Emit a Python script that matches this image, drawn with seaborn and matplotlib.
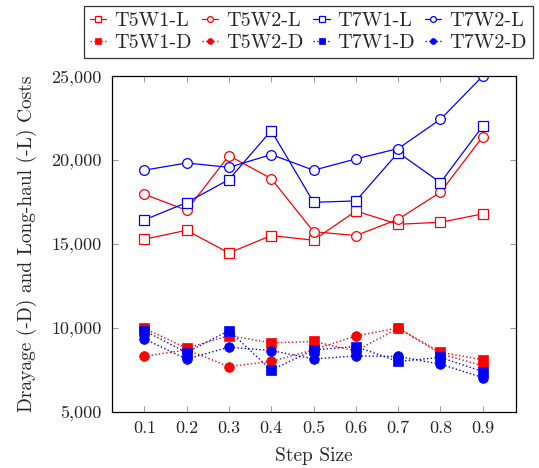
import matplotlib
matplotlib.use("Agg")
import matplotlib.pyplot as plt
import seaborn as sns
from matplotlib.ticker import FuncFormatter

# Step sizes on x-axis
steps = [0.1, 0.2, 0.3, 0.4, 0.5, 0.6, 0.7, 0.8, 0.9]

# Long-haul costs
t5w1_l = [15280, 15810, 14460, 15500, 15220, 16960, 16170, 16290, 16790]
t5w2_l = [17960, 17000, 20260, 18890, 15730, 15500, 16470, 18080, 21390]
t7w1_l = [16430, 17460, 18830, 21750, 17480, 17560, 20440, 18650, 22020]
t7w2_l = [19390, 19820, 19560, 20320, 19390, 20060, 20680, 22420, 25000]

# Drayage costs
t5w1_d = [9980, 8790, 9540, 9110, 9190, 8630, 9980, 8550, 8100]
t5w2_d = [8300, 8700, 7700, 8000, 8700, 9520, 10000, 8450, 7750]
t7w1_d = [9840, 8530, 9840, 7480, 8690, 8890, 8000, 8240, 7400]
t7w2_d = [9350, 8140, 8850, 8650, 8150, 8330, 8300, 7840, 7040]

labels = ["T5W1-L", "T5W2-L", "T7W1-L", "T7W2-L",
          "T5W1-D", "T5W2-D", "T7W1-D", "T7W2-D"]

sns.set_style("ticks")
plt.rcParams["font.family"] = "serif"
plt.rcParams["font.serif"] = ["cmr10", "DejaVu Serif"]
plt.rcParams["mathtext.fontset"] = "cm"
plt.rcParams["axes.formatter.use_mathtext"] = True
plt.rcParams["axes.unicode_minus"] = False

RED = "#ff0000"
BLUE = "#0000ff"

fig = plt.figure(figsize=(5.39, 4.68), dpi=100)
ax = fig.add_axes([0.207, 0.12, 0.75, 0.7176])

series = [
    (t5w1_l, RED, "s", "-", True),
    (t5w2_l, RED, "o", "-", True),
    (t7w1_l, BLUE, "s", "-", True),
    (t7w2_l, BLUE, "o", "-", True),
    (t5w1_d, RED, "s", ":", False),
    (t5w2_d, RED, "o", ":", False),
    (t7w1_d, BLUE, "s", ":", False),
    (t7w2_d, BLUE, "o", ":", False),
]

for (vals, col, mk, ls, hollow), lab in zip(series, labels):
    sns.lineplot(
        x=steps, y=vals, ax=ax,
        color=col, marker=mk, linestyle=ls,
        linewidth=0.9 if hollow else 1.0,
        markersize=7,
        markerfacecolor="white" if hollow else col,
        markeredgecolor=col,
        markeredgewidth=0.9 if hollow else 0.5,
        label=lab,
    )

ax.set_xlim(0.0227, 0.978)
ax.set_ylim(5000, 25000)
ax.set_xticks(steps)
ax.set_xticklabels([f"{s:.1f}" for s in steps])
ax.set_yticks([5000, 10000, 15000, 20000, 25000])
ax.yaxis.set_major_formatter(FuncFormatter(lambda v, p: f"{int(v):,}"))
ax.tick_params(direction="in", top=True, right=True, labelsize=13,
               length=4, width=0.6, color="#888888")
ax.tick_params(axis="y", pad=7)
ax.tick_params(axis="x", pad=6)
for sp in ax.spines.values():
    sp.set_linewidth(0.9)
    sp.set_color("black")

ax.set_xlabel("Step Size", fontsize=14, labelpad=8)
ax.set_ylabel("Drayage (-D) and Long-haul (-L) Costs", fontsize=14, labelpad=10)

h, l = ax.get_legend_handles_labels()
ax.get_legend().remove()
# legend fills column-first, so interleave to get L row on top, D row below
order = [0, 4, 1, 5, 2, 6, 3, 7]
leg = fig.legend([h[i] for i in order], [l[i] for i in order], ncol=4,
                 loc="upper left", bbox_to_anchor=(0.156, 0.988),
                 borderaxespad=0,
                 fontsize=14.5, frameon=True, fancybox=False, edgecolor="black",
                 handlelength=0.8, handletextpad=0.4, columnspacing=0.5,
                 borderpad=0.3, labelspacing=0.2, markerscale=0.6)
leg.get_frame().set_linewidth(0.9)

plt.savefig("out.png", dpi=100)
plt.close()
